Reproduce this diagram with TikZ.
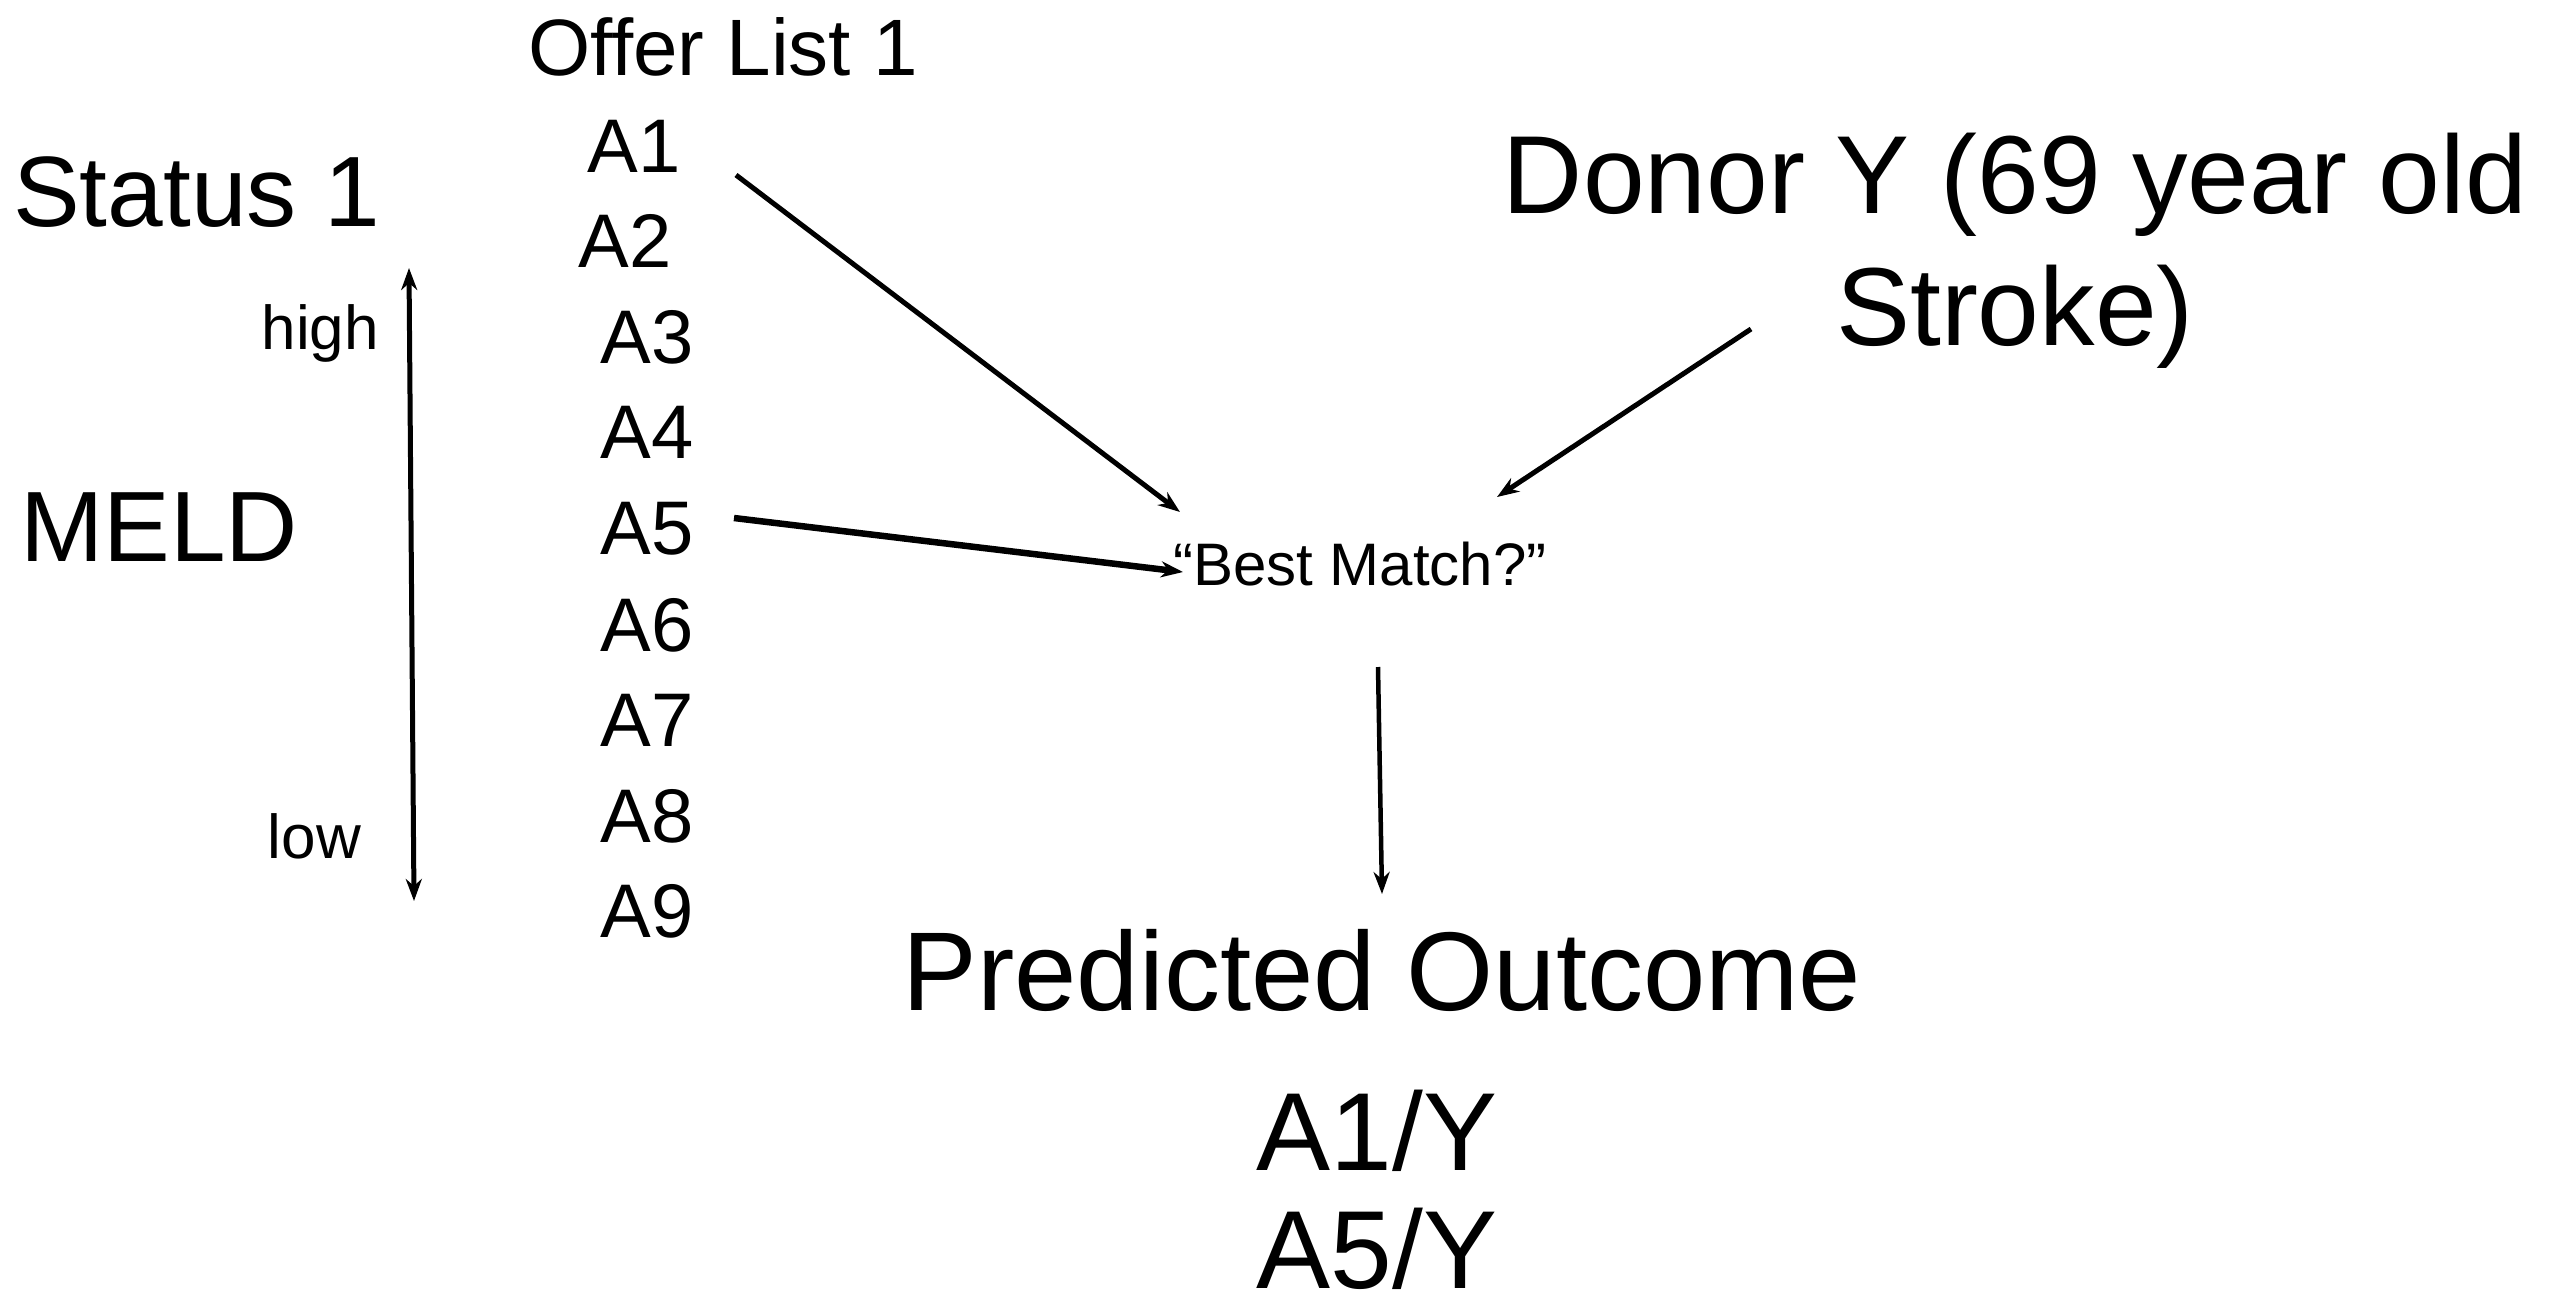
\documentclass[tikz,border=0pt]{standalone}
\usepackage{fontspec}
\setmainfont{Liberation Sans}
\usetikzlibrary{arrows.meta}
\begin{document}
\begin{tikzpicture}[x=1pt,y=-1pt,
  txt/.style={inner sep=0pt,anchor=base},
  big/.style={txt,font=\fontsize{111}{132}\selectfont},
  mid/.style={txt,font=\fontsize{100}{120}\selectfont},
  lst/.style={txt,font=\fontsize{76}{90}\selectfont},
  sml/.style={txt,font=\fontsize{62}{74}\selectfont},
  conn/.style={line width=5pt,-{Stealth[length=22pt,width=16pt,inset=7pt]}}]
\useasboundingbox (0,0) rectangle (2564,1310);
% titles
\node[txt,font=\fontsize{80}{96}\selectfont] (offer) at (723,75) {Offer List 1};
\node[mid,anchor=base west] (status) at (13,226) {Status 1};
\node[mid,anchor=base west] (meld) at (20,561) {MELD};
\node[sml,anchor=base east] (high) at (379,349) {high};
\node[sml,anchor=base east] (low) at (361,858) {low};
% list
\node[lst] (A1) at (634,172) {A1};
\node[lst] (A2) at (625,267) {A2};
\node[lst] (A3) at (647,363) {A3};
\node[lst] (A4) at (647,458) {A4};
\node[lst] (A5) at (647,554) {A5};
\node[lst] (A6) at (647,651) {A6};
\node[lst] (A7) at (647,746) {A7};
\node[lst] (A8) at (647,842) {A8};
\node[lst] (A9) at (647,937) {A9};
% donor
\node[big] (donor1) at (2015,213) {Donor Y (69 year old};
\node[big] (donor2) at (2015,345) {Stroke)};
% best match
\node[txt,font=\fontsize{60}{72}\selectfont] (best) at (1360,585) {“Best Match?”};
% outcome
\node[big,font=\fontsize{112}{134}\selectfont] (pred) at (1382,1010) {Predicted Outcome};
\node[big] (o1) at (1377,1170) {A1/Y};
\node[big] (o2) at (1377,1288) {A5/Y};
% connector end points
\coordinate (a1s) at (736,175);
\coordinate (a1e) at (1180,512);
\coordinate (a5s) at (734,518);
\coordinate (a5e) at (1183,572);
\coordinate (ds) at (1751,329);
\coordinate (de) at (1497,497);
\coordinate (bs) at (1378,667);
\coordinate (be) at (1382,894);
\coordinate (mtop) at (409,268);
\coordinate (mbot) at (414,901);
% connectors
\draw[conn] (a1s) -- (a1e);
\draw[conn,line width=6.5pt] (a5s) -- (a5e);
\draw[conn] (ds) -- (de);
\draw[conn,line width=4.5pt] (bs) -- (be);
\draw[line width=5pt,{Stealth[length=22pt,width=16pt,inset=7pt]}-{Stealth[length=22pt,width=16pt,inset=7pt]}] (mtop) -- (mbot);
\end{tikzpicture}
\end{document}
